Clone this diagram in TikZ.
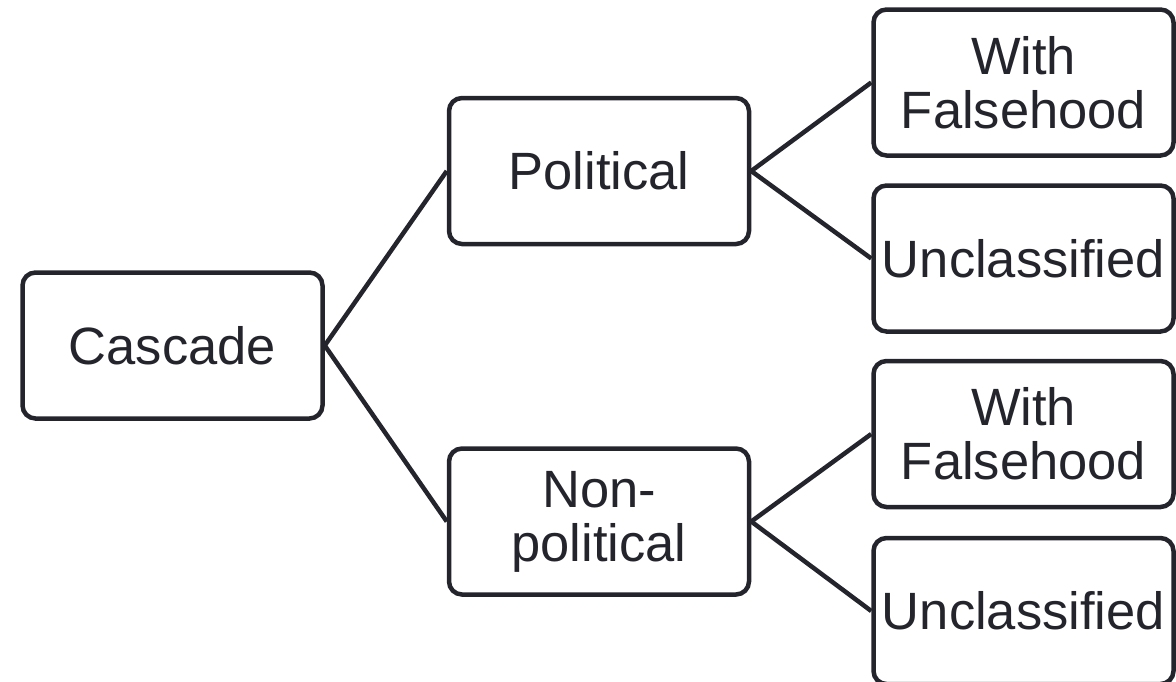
\documentclass[tikz,border=0pt]{standalone}
\usepackage{fontspec}
\setmainfont{Liberation Sans}
\definecolor{ink}{RGB}{36,36,44}
\begin{document}
\begin{tikzpicture}[x=1pt,y=-1pt,
  box/.style={draw=ink, line width=4.5pt, rounded corners=13pt, minimum width=300pt, minimum height=146pt, inner sep=0pt, align=center, text=ink, font=\fontsize{52.5}{54}\selectfont},
  link/.style={draw=ink, line width=4.5pt}]
\useasboundingbox (0,0) rectangle (1176,681);
\node[box] (cas) at (172.5,345.5) {Cascade};
\node[box] (pol) at (599,171) {Political};
\node[box] (non) at (599,521.5) {Non-\\political};
\node[box] (wf1) at (1023.5,82.5) {With\\Falsehood};
\node[box] (un1) at (1023.5,258.5) {Unclassified};
\node[box] (wf2) at (1023.5,434) {With\\Falsehood};
\node[box] (un2) at (1023.5,611) {Unclassified};
\draw[link] (cas.east) -- (pol.west);
\draw[link] (cas.east) -- (non.west);
\draw[link] (pol.east) -- (wf1.west);
\draw[link] (pol.east) -- (un1.west);
\draw[link] (non.east) -- (wf2.west);
\draw[link] (non.east) -- (un2.west);
\end{tikzpicture}
\end{document}
